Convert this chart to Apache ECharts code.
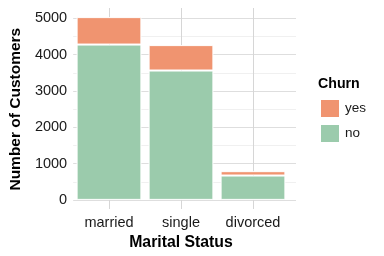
<!DOCTYPE html>
<html>
<head>
<meta charset="utf-8">
<script src="https://cdn.jsdelivr.net/npm/echarts@6/dist/echarts.min.js"></script>
<style>html,body{margin:0;padding:0;background:#fff}#c{width:384px;height:256px}</style>
</head>
<body>
<div id="c"></div>
<script>
const categories = ['married', 'single', 'divorced'];
const noValues = [4275, 3560, 670];
const yesValues = [755, 700, 120];
const yTicks = [0, 1000, 2000, 3000, 4000, 5000];

const FONT = '"Liberation Sans", Arial, Helvetica, sans-serif';
const chart = echarts.init(document.getElementById('c'));
chart.setOption({
  animation: false,
  textStyle: { fontFamily: FONT },
  title: {
    text: 'Churn', left: 318, top: 77, padding: 0,
    textStyle: { fontSize: 14.2, fontWeight: 'bold', color: '#000', fontFamily: FONT }
  },
  legend: {
    data: ['yes', 'no'], orient: 'vertical', left: 319, top: 98, padding: 0,
    itemWidth: 20, itemHeight: 19, itemGap: 4, icon: 'rect',
    textStyle: { fontSize: 13.5, color: '#1a1a1a', fontFamily: FONT }
  },
  grid: [
    { left: 66, right: 88, top: 18.33, bottom: 56 },
    { left: 73, right: 95, top: 8, bottom: 47 }
  ],
  xAxis: [
    { gridIndex: 0, type: 'value', show: false },
    {
      gridIndex: 1, type: 'category', data: categories,
      axisLine: { show: false }, axisTick: { show: false },
      axisLabel: { fontSize: 14.5, color: '#1a1a1a', margin: 6, fontFamily: FONT },
      splitLine: { show: true, alignWithLabel: true, lineStyle: { color: '#d6d6d6', width: 1 } },
      name: 'Marital Status', nameLocation: 'middle', nameGap: 23,
      nameTextStyle: { fontSize: 15.8, fontWeight: 'bold', color: '#000', fontFamily: FONT }
    }
  ],
  yAxis: [
    {
      gridIndex: 0, type: 'value', min: yTicks[0], max: yTicks[yTicks.length - 1], interval: 1000,
      axisLine: { show: false }, axisTick: { show: false },
      axisLabel: { fontSize: 14.5, color: '#1a1a1a', margin: 6, fontFamily: FONT,
        formatter: function (v) { return String(v); } },
      splitLine: { show: true, lineStyle: { color: '#dedede', width: 1 } },
      minorTick: { show: false, splitNumber: 2 },
      minorSplitLine: { show: true, lineStyle: { color: '#f0f0f0', width: 1 } },
      name: 'Number of Customers', nameLocation: 'middle', nameGap: 45,
      nameTextStyle: { fontSize: 15.5, fontWeight: 'bold', color: '#000', fontFamily: FONT }
    },
    { gridIndex: 1, type: 'value', min: -251, max: 5281, show: false, splitLine: { show: false } }
  ],
  series: [
    {
      name: 'no', type: 'bar', stack: 's', xAxisIndex: 1, yAxisIndex: 1,
      data: noValues, barCategoryGap: '10%',
      itemStyle: { color: '#9BCBAC', borderColor: '#fff', borderWidth: 1 }
    },
    {
      name: 'yes', type: 'bar', stack: 's', xAxisIndex: 1, yAxisIndex: 1,
      data: yesValues, barCategoryGap: '10%',
      itemStyle: { color: '#F09470', borderColor: '#fff', borderWidth: 1 }
    }
  ]
});
</script>
</body>
</html>
